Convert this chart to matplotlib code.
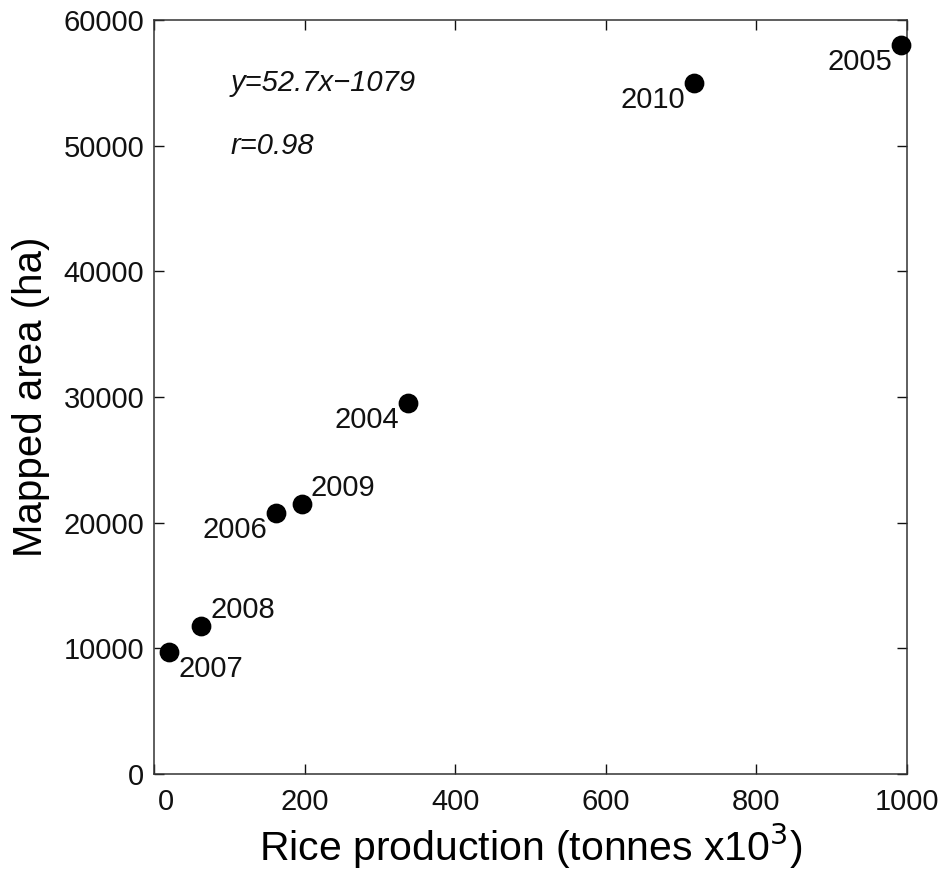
import matplotlib
matplotlib.use("Agg")
import matplotlib.pyplot as plt
import matplotlib.transforms as mtransforms

plt.rcParams['font.family'] = ['Liberation Sans', 'DejaVu Sans']

# Data
years = ['2005', '2010', '2004', '2009', '2006', '2008', '2007']
production = [992, 717, 337, 196, 162, 63, 20]       # tonnes x10^3
area = [58000, 55000, 29500, 21450, 20800, 11750, 9700]  # ha
# label placement: 'lb' left-below, 'ra' right-above, 'rb' right-below
label_pos = ['lb', 'lb', 'lb', 'ra', 'lb', 'ra', 'rb']

x_ticks = [0, 200, 400, 600, 800, 1000]
y_ticks = [0, 10000, 20000, 30000, 40000, 50000, 60000]

fig = plt.figure(figsize=(9.42, 8.72), dpi=100)
ax = fig.add_axes([0.1635, 0.1124, 0.9628 - 0.1635, 0.977 - 0.1124])

ax.scatter(production, area, s=175, color='black', zorder=3, clip_on=False)

offsets = {'lb': ((-9, -17), 'right'), 'ra': ((9, 16), 'left'), 'rb': ((9, -17), 'left')}
for x, y, lab, p in zip(production, area, years, label_pos):
    (dx, dy), ha = offsets[p]
    ax.annotate(lab, (x, y), xytext=(dx, dy), textcoords='offset pixels',
                ha=ha, va='center', fontsize=21, color='#111111')

ax.text(102, 55000, 'y=52.7x\u22121079', fontsize=21, style='italic',
        va='center', ha='left', color='#111111')
ax.text(102, 50000, 'r=0.98', fontsize=21, style='italic',
        va='center', ha='left', color='#111111')

ax.set_xlim(0, 1000)
ax.set_ylim(0, 60000)
ax.set_xticks(x_ticks)
ax.set_yticks(y_ticks)
ax.set_xticklabels([str(t) for t in x_ticks])
ax.set_yticklabels([str(t) for t in y_ticks])

ax.tick_params(direction='in', length=7, width=1, top=True, right=True,
               labelsize=21, colors='#111111')
ax.tick_params(axis='x', pad=10)
ax.tick_params(axis='y', pad=7)
for sp in ax.spines.values():
    sp.set_color('#333333')
    sp.set_linewidth(1.1)

# shift the "0" x tick label a bit right, as in the reference
lbl0 = ax.get_xticklabels()[0]
lbl0.set_transform(lbl0.get_transform() + mtransforms.ScaledTranslation(12/100, 0, fig.dpi_scale_trans))

ax.set_xlabel('Rice production (tonnes x10$^3$)', fontsize=29.5, labelpad=4)
ax.set_ylabel('Mapped area (ha)', fontsize=29, labelpad=10)

fig.savefig('out.png', dpi=100)
